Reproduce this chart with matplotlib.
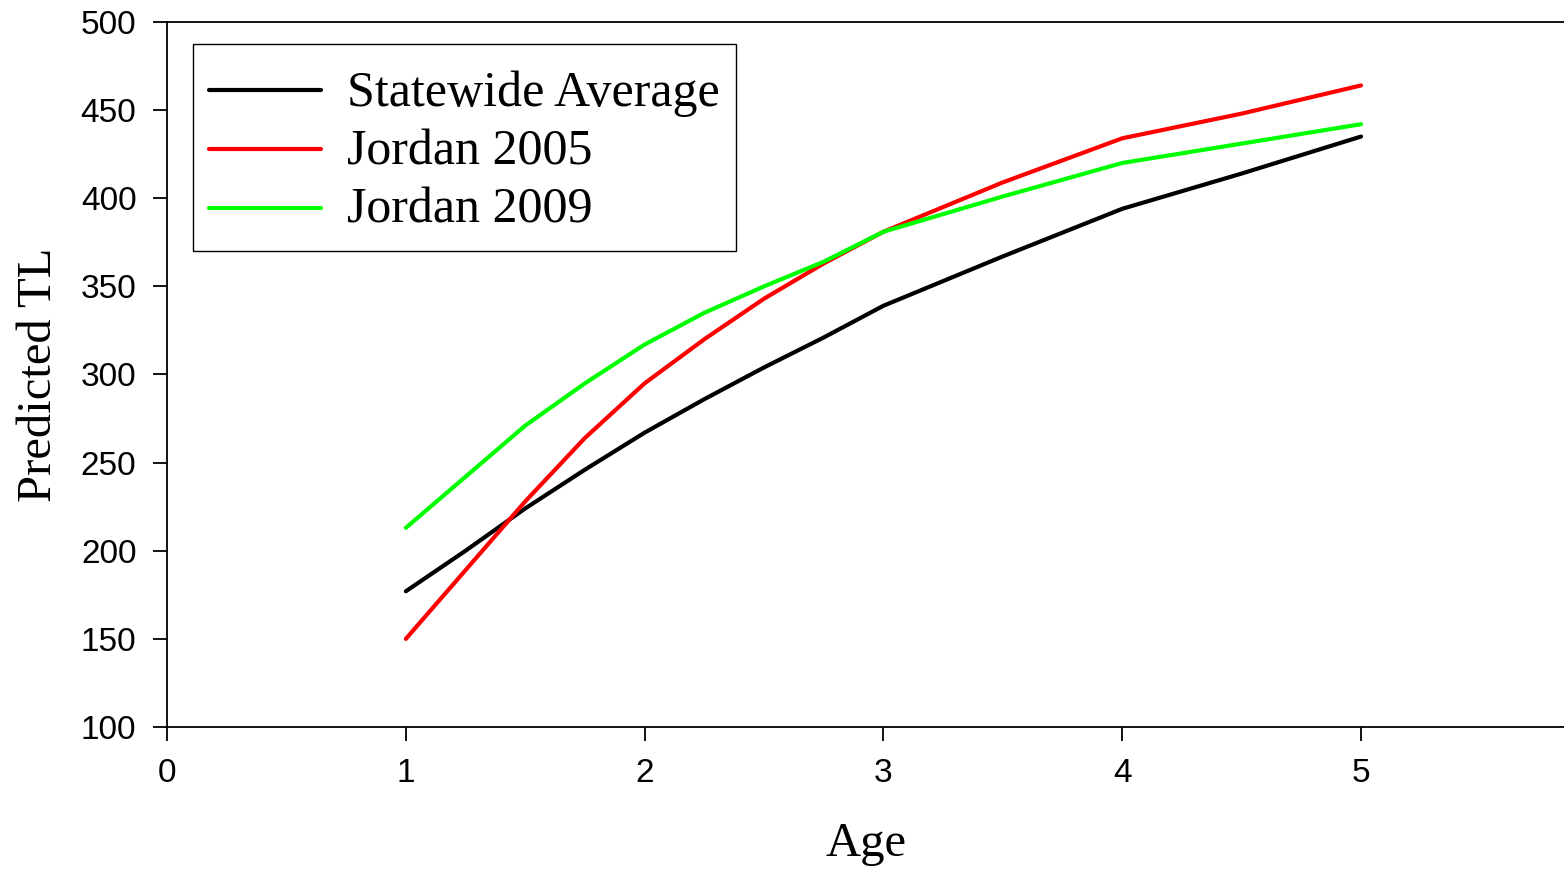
import matplotlib
matplotlib.use('Agg')
import matplotlib.pyplot as plt
import numpy as np

# predicted total length by age
ages = [1, 1.25, 1.5, 1.75, 2, 2.25, 2.5, 2.75, 3, 3.5, 4, 4.5, 5]
statewide = [177, 200, 224, 246, 267, 286, 304, 321, 339, 367, 394, 414, 435]
jordan_2005 = [150, 189, 228, 264, 295, 320, 343, 363, 381, 409, 434, 448, 464]
jordan_2009 = [213, 242, 271, 295, 317, 335, 350, 364, 381, 401, 420, 431, 442]

series_labels = ['Statewide Average', 'Jordan 2005', 'Jordan 2009']
series_colors = ['#000000', '#ff0000', '#00ff00']

x_ticks = [0, 1, 2, 3, 4, 5]
y_ticks = [100, 150, 200, 250, 300, 350, 400, 450, 500]

serif = ['Liberation Serif', 'DejaVu Serif']
sans = ['Liberation Sans', 'DejaVu Sans']

fig = plt.figure(figsize=(15.64, 8.69), dpi=100)
ax = fig.add_axes([0.1068, 0.1634, 0.8932, 0.8113])

for vals, lab, col in zip([statewide, jordan_2005, jordan_2009], series_labels, series_colors):
    ax.plot(ages, vals, color=col, lw=3, label=lab,
            solid_capstyle='round', solid_joinstyle='round')

ax.set_xlim(0, 5.85)
ax.set_ylim(100, 500)
ax.set_xticks(x_ticks)
ax.set_yticks(y_ticks)
ax.spines['right'].set_visible(False)
for s in ['left', 'bottom', 'top']:
    ax.spines[s].set_linewidth(1.3)
ax.tick_params(direction='out', length=10, width=1.3, labelsize=24, pad=12)
for t in ax.get_xticklabels() + ax.get_yticklabels():
    t.set_family(sans)

ax.set_xlabel('Age', family=serif, fontsize=35, labelpad=24)
ax.set_ylabel('Predicted TL', family=serif, fontsize=35, labelpad=14)

leg = ax.legend(loc='upper left', bbox_to_anchor=(0.0186, 0.9688), borderaxespad=0,
                prop={'family': serif, 'size': 36},
                frameon=True, fancybox=False, edgecolor='black', framealpha=1,
                handlelength=2.24, handleheight=1.41, handletextpad=0.52,
                labelspacing=0.01, borderpad=0.32)
leg.get_frame().set_linewidth(1.0)
# put the legend handle lines level with the text
for ln in leg.get_lines():
    ln.set_ydata(np.asarray(ln.get_ydata()) - 5.5)

fig.savefig('out.png', dpi=100)
